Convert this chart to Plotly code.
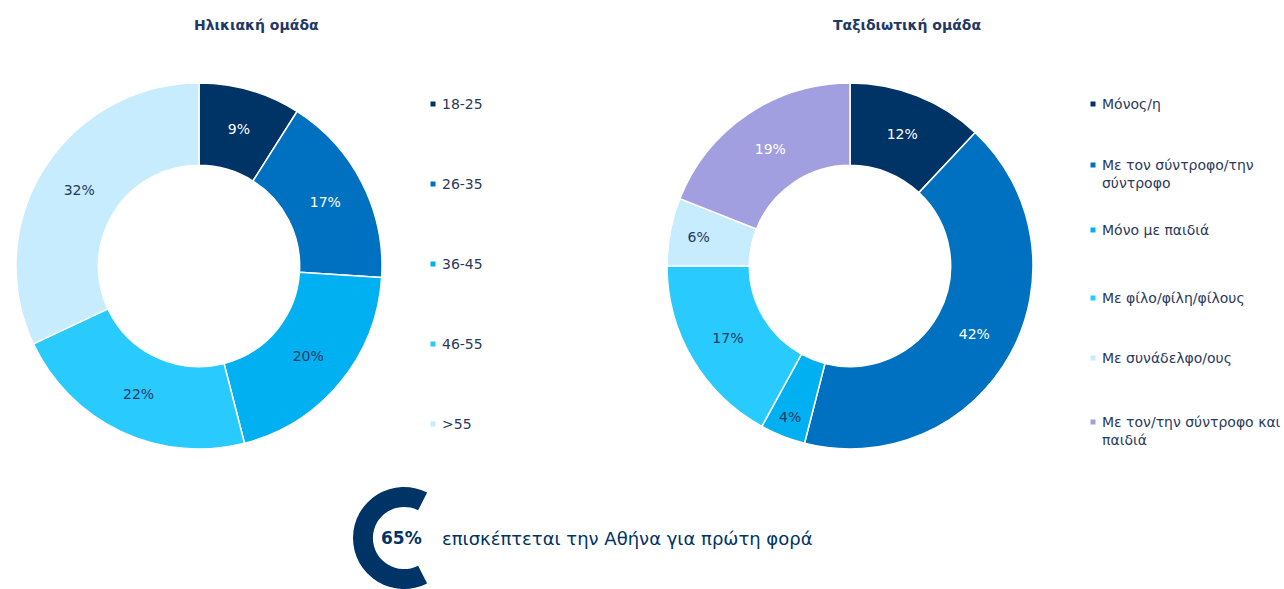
import plotly.graph_objects as go

W, H = 1284, 589

# ---- data ----
age_labels = ["18-25", "26-35", "36-45", "46-55", ">55"]
age_values = [9, 17, 20, 22, 32]
age_colors = ["#003366", "#0070C0", "#00B0F0", "#29CBFF", "#C7ECFD"]
age_text_colors = ["white", "white", "#1F3864", "#1F3864", "#1F3864"]

grp_labels = ["Μόνος/η", "Με τον σύντροφο/την<br>σύντροφο", "Μόνο με παιδιά",
              "Με φίλο/φίλη/φίλους", "Με συνάδελφο/ους",
              "Με τον/την σύντροφο και<br>παιδιά"]
grp_values = [12, 42, 4, 17, 6, 19]
grp_colors = ["#003366", "#0070C0", "#00B0F0", "#29CBFF", "#C7ECFD", "#A29FE0"]
grp_text_colors = ["white", "white", "#1F3864", "#1F3864", "#1F3864", "white"]

first_visit_pct = 65
first_visit_text = "επισκέπτεται την Αθήνα για πρώτη φορά"

title_left = "Ηλικιακή ομάδα"
title_right = "Ταξιδιωτική ομάδα"

FONT = "DejaVu Sans, Arial, sans-serif"
DARK = "#1F3864"
LEG = "#2B3A5A"


def dom(cx, cy, r):
    return dict(x=[(cx - r) / W, (cx + r) / W], y=[(H - cy - r) / H, (H - cy + r) / H])


fig = go.Figure()

fig.add_trace(go.Pie(
    labels=age_labels, values=age_values,
    hole=0.55, sort=False, direction="clockwise", rotation=0,
    marker=dict(colors=age_colors, line=dict(color="white", width=1.5)),
    texttemplate="%{value}%", textposition="inside", insidetextorientation="horizontal",
    textfont=dict(family=FONT, size=14, color=age_text_colors),
    domain=dom(199, 266, 183), showlegend=False, hoverinfo="label+value",
))

fig.add_trace(go.Pie(
    labels=[l.replace("<br>", " ") for l in grp_labels], values=grp_values,
    hole=0.55, sort=False, direction="clockwise", rotation=0,
    marker=dict(colors=grp_colors, line=dict(color="white", width=1.5)),
    texttemplate="%{value}%", textposition="inside", insidetextorientation="horizontal",
    textfont=dict(family=FONT, size=14, color=grp_text_colors),
    domain=dom(850, 266, 183), showlegend=False, hoverinfo="label+value",
))

# the "C" gauge for first-time visitors
fig.add_trace(go.Pie(
    values=[first_visit_pct, 100 - first_visit_pct], labels=["Πρώτη φορά", "Άλλο"],
    hole=0.61, sort=False, direction="counterclockwise",
    rotation=-(first_visit_pct / 100 * 360) / 2 - 90,
    marker=dict(colors=["#003366", "rgba(0,0,0,0)"], line=dict(width=0)),
    textinfo="none", domain=dom(404, 538, 51), showlegend=False, hoverinfo="skip",
))

annotations = []
shapes = []


def txt(text, x, y, size, color, xanchor="center", bold=False):
    annotations.append(dict(text=f"<b>{text}</b>" if bold else text, x=x / W, y=1 - y / H,
                            xref="paper", yref="paper", xanchor=xanchor, yanchor="middle",
                            align="left", showarrow=False,
                            font=dict(family=FONT, size=size, color=color)))


txt(title_left, 256, 25, 14, DARK, bold=True)
txt(title_right, 907, 25, 14, DARK, bold=True)


def add_legend(labels, colors, ys, sq_x, tx_x):
    for lab, col, y in zip(labels, colors, ys):
        annotations.append(dict(text=lab, x=tx_x / W, y=1 - (y - 10) / H, xref="paper", yref="paper",
                                xanchor="left", yanchor="top", align="left", showarrow=False,
                                font=dict(family=FONT, size=14, color=LEG)))
        shapes.append(dict(type="rect", xref="paper", yref="paper",
                           x0=(sq_x - 2.5) / W, x1=(sq_x + 2.5) / W,
                           y0=1 - (y + 2.5) / H, y1=1 - (y - 2.5) / H,
                           fillcolor=col, line=dict(width=0)))


add_legend(age_labels, age_colors, [104, 184, 264, 344, 424], 433, 440)
add_legend(grp_labels, grp_colors, [104, 165, 230, 298, 358, 422], 1093, 1100)

txt(f"{first_visit_pct}%", 401, 538, 17, "#003366", bold=True)
txt(first_visit_text, 440, 538, 18, "#003366", xanchor="left")

fig.update_layout(
    width=W, height=H, margin=dict(l=0, r=0, t=0, b=0),
    paper_bgcolor="white", plot_bgcolor="white",
    annotations=annotations, shapes=shapes,
)

fig.write_html("out.html", config={"displayModeBar": False},
               post_script="document.body.style.margin='0';")
